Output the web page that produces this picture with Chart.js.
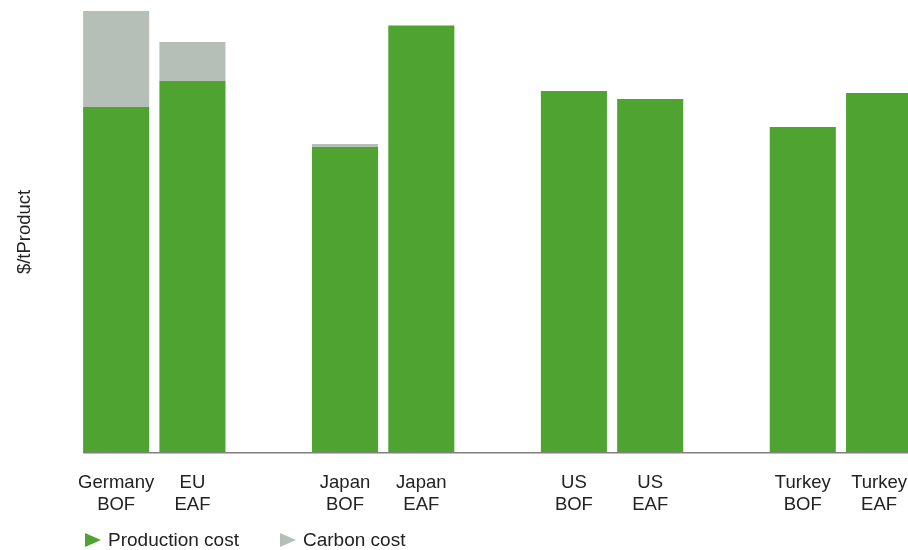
<!DOCTYPE html>
<html lang="en">
<head>
    <meta charset="UTF-8">
    <title>Steel production and carbon cost</title>
    <script src="https://cdn.jsdelivr.net/npm/chart.js"></script>
    <style>
        html, body {
            margin: 0;
            padding: 0;
            background: #fff;
            overflow: hidden;
            font-family: 'Liberation Sans', Arial, sans-serif;
        }

        .wrap {
            position: relative;
            width: 927px;
            height: 550px;
        }

        .legend {
            position: absolute;
            left: 85px;
            top: 530px;
            display: flex;
            align-items: center;
            font-size: 19px;
            line-height: 20px;
            color: #222;
        }

        .legend-item {
            display: flex;
            align-items: center;
            margin-right: 41px;
        }

        .tri {
            width: 0;
            height: 0;
            border-top: 7.5px solid transparent;
            border-bottom: 7.5px solid transparent;
            border-left: 16px solid;
            margin-right: 7px;
        }
    </style>
</head>
<body>
    <div class="wrap">
        <canvas id="costChart" width="927" height="550"></canvas>
        <div class="legend">
            <div class="legend-item"><span class="tri" style="border-left-color: #4ea331;"></span>Production cost</div>
            <div class="legend-item"><span class="tri" style="border-left-color: #b5beb7;"></span>Carbon cost</div>
        </div>
    </div>

    <script>
        // Routes, with empty slots between the regional groups
        const routes = [
            ['Germany', 'BOF'], ['EU', 'EAF'], '',
            ['Japan', 'BOF'], ['Japan', 'EAF'], '',
            ['US', 'BOF'], ['US', 'EAF'], '',
            ['Turkey', 'BOF'], ['Turkey', 'EAF']
        ];

        // $/t product
        const productionCost = [346, 372, null, 306, 427, null, 362, 354, null, 326, 360];
        const carbonCost = [96, 39, null, 3, 1, null, 0, 0, null, 0, 0];

        const GREEN = '#4ea331';
        const GREY = '#b5beb7';
        const FONT = "'Liberation Sans', Arial, sans-serif";

        // baseline starts at the left edge of the first bar, not the chart area
        const baseline = {
            id: 'baseline',
            afterDatasetsDraw(chart) {
                const bar = chart.getDatasetMeta(0).data[0];
                const y = chart.scales.y.getPixelForValue(0);
                const ctx = chart.ctx;
                ctx.save();
                ctx.strokeStyle = '#808080';
                ctx.lineWidth = 1.5;
                ctx.beginPath();
                ctx.moveTo(bar.x - bar.width / 2, y);
                ctx.lineTo(chart.chartArea.right, y);
                ctx.stroke();
                ctx.restore();
            }
        };

        new Chart(document.getElementById('costChart'), {
            type: 'bar',
            data: {
                labels: routes,
                datasets: [
                    {
                        label: 'Production cost',
                        data: productionCost,
                        backgroundColor: GREEN,
                        barPercentage: 0.866,
                        categoryPercentage: 1
                    },
                    {
                        label: 'Carbon cost',
                        data: carbonCost,
                        backgroundColor: GREY,
                        barPercentage: 0.866,
                        categoryPercentage: 1
                    }
                ]
            },
            options: {
                responsive: false,
                animation: false,
                layout: {
                    padding: { top: 11, left: 14, right: 0, bottom: 15 }
                },
                plugins: {
                    legend: { display: false },
                    tooltip: { enabled: false }
                },
                scales: {
                    x: {
                        stacked: true,
                        grid: { display: false, drawTicks: false },
                        border: { display: false },
                        ticks: {
                            color: '#222',
                            padding: 20,
                            maxRotation: 0,
                            autoSkip: false,
                            font: { family: FONT, size: 18.5, lineHeight: 1.14 }
                        }
                    },
                    y: {
                        stacked: true,
                        min: 0,
                        max: 442,
                        grid: { display: false, drawTicks: false },
                        border: { display: false },
                        ticks: { display: false },
                        title: {
                            display: true,
                            text: '$/tProduct',
                            color: '#222',
                            padding: { top: 0, bottom: 41.8 },
                            font: { family: FONT, size: 18.5 }
                        }
                    }
                }
            },
            plugins: [baseline]
        });
    </script>
</body>
</html>
